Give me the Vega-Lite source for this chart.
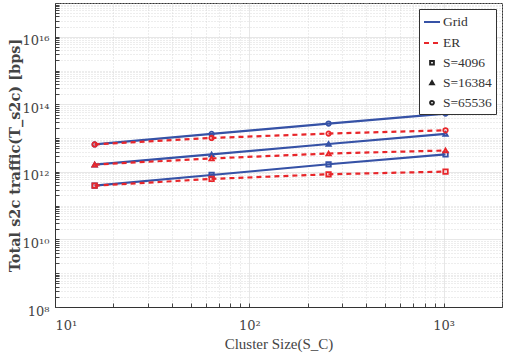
{
  "$schema": "https://vega.github.io/schema/vega-lite/v6.json",
  "autosize": {"type": "none"},
  "width": 447,
  "height": 304,
  "padding": {"top": 3, "left": 55, "right": 3, "bottom": 55},
  "background": "white",
  "config": {
    "view": {"stroke": "#333", "strokeWidth": 1},
    "font": "Liberation Serif",
    "axis": {"domainColor": "#333", "labelColor": "#444", "titleColor": "#444", "labelFont": "DejaVu Serif", "titleFont": "Liberation Serif", "tickColor": "#444"},
    "legend": {
      "orient": "top-right",
      "offset": 6,
      "padding": 4,
      "strokeColor": "#333",
      "fillColor": "white",
      "labelFont": "Liberation Serif",
      "labelFontSize": 13.5,
      "labelColor": "#333",
      "labelOffset": 2,
      "rowPadding": 5,
      "symbolStrokeWidth": 2,
      "symbolOpacity": 1
    }
  },
  "datasets": {
    "traffic": [
      {"type": "Grid", "S": "S=4096", "size": 16, "traffic": 3.9e11},
      {"type": "Grid", "S": "S=4096", "size": 64, "traffic": 8.1e11},
      {"type": "Grid", "S": "S=4096", "size": 256, "traffic": 1.68e12},
      {"type": "Grid", "S": "S=4096", "size": 1024, "traffic": 3.3e12},
      {"type": "Grid", "S": "S=16384", "size": 16, "traffic": 1.65e12},
      {"type": "Grid", "S": "S=16384", "size": 64, "traffic": 3.3e12},
      {"type": "Grid", "S": "S=16384", "size": 256, "traffic": 6.7e12},
      {"type": "Grid", "S": "S=16384", "size": 1024, "traffic": 1.33e13},
      {"type": "Grid", "S": "S=65536", "size": 16, "traffic": 6.5e12},
      {"type": "Grid", "S": "S=65536", "size": 64, "traffic": 1.33e13},
      {"type": "Grid", "S": "S=65536", "size": 256, "traffic": 2.7e13},
      {"type": "Grid", "S": "S=65536", "size": 1024, "traffic": 5.3e13},
      {"type": "ER", "S": "S=4096", "size": 16, "traffic": 3.9e11},
      {"type": "ER", "S": "S=4096", "size": 64, "traffic": 6.2e11},
      {"type": "ER", "S": "S=4096", "size": 256, "traffic": 8.5e11},
      {"type": "ER", "S": "S=4096", "size": 1024, "traffic": 1.02e12},
      {"type": "ER", "S": "S=16384", "size": 16, "traffic": 1.65e12},
      {"type": "ER", "S": "S=16384", "size": 64, "traffic": 2.5e12},
      {"type": "ER", "S": "S=16384", "size": 256, "traffic": 3.5e12},
      {"type": "ER", "S": "S=16384", "size": 1024, "traffic": 4.3e12},
      {"type": "ER", "S": "S=65536", "size": 16, "traffic": 6.5e12},
      {"type": "ER", "S": "S=65536", "size": 64, "traffic": 1.01e13},
      {"type": "ER", "S": "S=65536", "size": 256, "traffic": 1.36e13},
      {"type": "ER", "S": "S=65536", "size": 1024, "traffic": 1.7e13}
    ],
    "legendKeys": [
      {"key": "Grid"}, {"key": "ER"}, {"key": "S=4096"}, {"key": "S=16384"}, {"key": "S=65536"}
    ]
  },
  "data": {"name": "traffic"},
  "encoding": {
    "x": {
      "field": "size", "type": "quantitative",
      "scale": {"type": "log", "domain": [10, 2000], "nice": false},
      "axis": {
        "title": "Cluster Size(S_C)",
        "titleFontSize": 15, "titleFontWeight": "normal", "titlePadding": 4,
        "labelFontSize": 13, "labelPadding": 16, "labelBaseline": "top",
        "values": [10, 20, 30, 40, 50, 60, 70, 80, 90, 100, 200, 300, 400, 500, 600, 700, 800, 900, 1000, 2000],
        "labelExpr": "datum.value == 10 ? '10¹' : datum.value == 100 ? '10²' : datum.value == 1000 ? '10³' : ''",
        "labelOverlap": false,
        "ticks": true, "tickSize": -4,
        "grid": true,
        "gridColor": {"condition": {"test": "datum.value == 10 || datum.value == 100 || datum.value == 1000", "value": "#d8d8d8"}, "value": "#d0d0d0"},
        "gridDash": {"condition": {"test": "datum.value == 10 || datum.value == 100 || datum.value == 1000", "value": [1, 0]}, "value": [1, 2]},
        "gridWidth": 0.8
      }
    },
    "y": {
      "field": "traffic", "type": "quantitative",
      "scale": {"type": "log", "domain": [1e8, 1e17], "nice": false},
      "axis": {
        "title": "Total s2c traffic(T_s2c) [bps]",
        "titleFont": "DejaVu Serif",
        "titleFontSize": 14.5, "titleFontWeight": "bold", "titlePadding": 0,
        "labelFontSize": 13, "labelPadding": 10, "labelOffset": 4,
        "values": [1e8, 2e8, 3e8, 4e8, 5e8, 6e8, 7e8, 8e8, 9e8,
                   1e9, 2e9, 3e9, 4e9, 5e9, 6e9, 7e9, 8e9, 9e9,
                   1e10, 2e10, 3e10, 4e10, 5e10, 6e10, 7e10, 8e10, 9e10,
                   1e11, 2e11, 3e11, 4e11, 5e11, 6e11, 7e11, 8e11, 9e11,
                   1e12, 2e12, 3e12, 4e12, 5e12, 6e12, 7e12, 8e12, 9e12,
                   1e13, 2e13, 3e13, 4e13, 5e13, 6e13, 7e13, 8e13, 9e13,
                   1e14, 2e14, 3e14, 4e14, 5e14, 6e14, 7e14, 8e14, 9e14,
                   1e15, 2e15, 3e15, 4e15, 5e15, 6e15, 7e15, 8e15, 9e15,
                   1e16, 2e16, 3e16, 4e16, 5e16, 6e16, 7e16, 8e16, 9e16, 1e17],
        "labelExpr": "datum.value == 1e8 ? '10⁸' : datum.value == 1e10 ? '10¹⁰' : datum.value == 1e12 ? '10¹²' : datum.value == 1e14 ? '10¹⁴' : datum.value == 1e16 ? '10¹⁶' : ''",
        "labelOverlap": false,
        "ticks": true, "tickSize": -4,
        "grid": true,
        "gridColor": {"condition": {"test": "datum.value == 1e8 || datum.value == 1e10 || datum.value == 1e12 || datum.value == 1e14 || datum.value == 1e16", "value": "#d8d8d8"}, "value": "#d0d0d0"},
        "gridDash": {"condition": {"test": "datum.value == 1e8 || datum.value == 1e10 || datum.value == 1e12 || datum.value == 1e14 || datum.value == 1e16", "value": [1, 0]}, "value": [1, 2]},
        "gridWidth": 0.8
      }
    }
  },
  "layer": [
    {
      "transform": [{"filter": "datum.type == 'Grid'"}],
      "mark": {"type": "line", "strokeWidth": 2.2, "color": "#3652a6"},
      "encoding": {"detail": {"field": "S", "type": "nominal"}}
    },
    {
      "transform": [{"filter": "datum.type == 'Grid'"}],
      "mark": {"type": "point", "filled": false, "strokeWidth": 1.8, "size": 20, "opacity": 1, "color": "#3652a6"},
      "encoding": {
        "shape": {"field": "S", "type": "nominal", "scale": {"domain": ["Grid", "ER", "S=4096", "S=16384", "S=65536"], "range": ["stroke", "stroke", "square", "triangle-up", "circle"]}, "legend": {"title": null}}
      }
    },
    {
      "transform": [{"filter": "datum.type == 'ER'"}],
      "mark": {"type": "line", "strokeWidth": 2.2, "color": "#e8262a", "strokeDash": [5, 4]},
      "encoding": {"detail": {"field": "S", "type": "nominal"}}
    },
    {
      "transform": [{"filter": "datum.type == 'ER'"}],
      "mark": {"type": "point", "filled": false, "strokeWidth": 1.8, "size": 20, "opacity": 1, "color": "#e8262a"},
      "encoding": {
        "shape": {"field": "S", "type": "nominal", "scale": {"domain": ["Grid", "ER", "S=4096", "S=16384", "S=65536"], "range": ["stroke", "stroke", "square", "triangle-up", "circle"]}, "legend": {"title": null}}
      }
    },
    {
      "data": {"name": "legendKeys"},
      "mark": {"type": "point", "filled": false, "opacity": 0},
      "encoding": {
        "stroke": {
          "field": "key", "type": "nominal",
          "scale": {"domain": ["Grid", "ER", "S=4096", "S=16384", "S=65536"], "range": ["#3652a6", "#e8262a", "#222222", "#222222", "#222222"]},
          "legend": {"title": null}
        },
        "shape": {
          "field": "key", "type": "nominal",
          "scale": {"domain": ["Grid", "ER", "S=4096", "S=16384", "S=65536"], "range": ["stroke", "stroke", "square", "triangle-up", "circle"]},
          "legend": {"title": null}
        },
        "strokeDash": {
          "field": "key", "type": "nominal",
          "scale": {"domain": ["Grid", "ER", "S=4096", "S=16384", "S=65536"], "range": [[1, 0], [5, 4], [1, 0], [1, 0], [1, 0]]},
          "legend": {"title": null}
        },
        "size": {
          "field": "key", "type": "nominal",
          "scale": {"type": "ordinal", "domain": ["Grid", "ER", "S=4096", "S=16384", "S=65536"], "range": [256, 256, 14, 14, 14]},
          "legend": {"title": null}
        }
      }
    }
  ]
}
